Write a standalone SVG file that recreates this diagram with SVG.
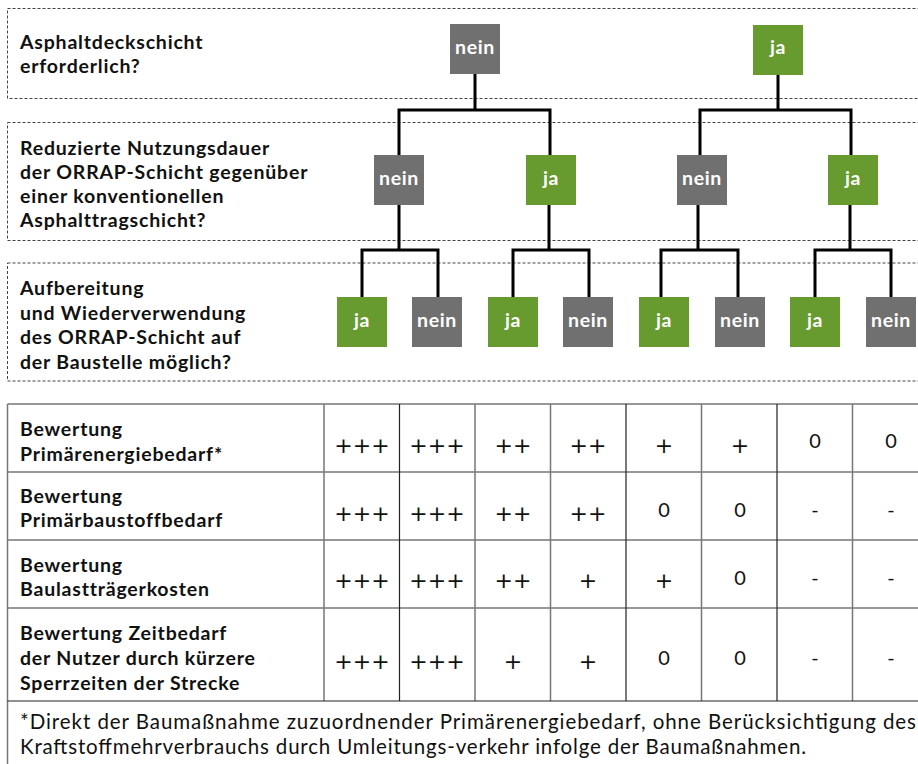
<svg xmlns="http://www.w3.org/2000/svg" width="918" height="764" viewBox="0 0 918 764">
<style>
.dash{fill:none;stroke:#444;stroke-width:1;stroke-dasharray:3 2}
.conn{fill:none;stroke:#000;stroke-width:3}
.g{fill:#707070}
.y{fill:#679a2f}
.nt{font-family:Lato,"Noto Sans",sans-serif;font-weight:bold;font-size:19.5px;letter-spacing:0.6px;fill:#fff;text-anchor:middle}
.lbl{font-family:Lato,"Noto Sans",sans-serif;font-weight:bold;font-size:19.5px;letter-spacing:0.8px;fill:#111}
.tl{fill:none;stroke:#777;stroke-width:1.5}
.tk{fill:none;stroke:#222;stroke-width:1.2}
.pl{font-family:"DejaVu Sans",sans-serif;font-size:22px;fill:#111;text-anchor:middle}
.zr{font-family:Lato,"Noto Sans",sans-serif;font-size:20px;fill:#111;text-anchor:middle}
.fn{font-family:Lato,"Noto Sans",sans-serif;font-size:20.5px;fill:#111}
</style>
<rect width="918" height="764" fill="#fff"/>
<g id="frames">
<rect class="dash" x="7.5" y="8.5" width="930" height="90"/>
<rect class="dash" x="7.5" y="122.5" width="930" height="118"/>
<rect class="dash" x="7.5" y="263" width="930" height="118"/>
</g>
<g id="questions" class="lbl">
<text x="20" y="49">Asphaltdeckschicht</text>
<text x="20" y="73">erforderlich?</text>
<text x="20" y="155">Reduzierte Nutzungsdauer</text>
<text x="20" y="179">der ORRAP-Schicht gegenüber</text>
<text x="20" y="203">einer konventionellen</text>
<text x="20" y="227">Asphalttragschicht?</text>
<text x="20" y="295">Aufbereitung</text>
<text x="20" y="320">und Wiederverwendung</text>
<text x="20" y="344">des ORRAP-Schicht auf</text>
<text x="20" y="369">der Baustelle möglich?</text>
</g>
<g id="connectors" class="conn">
<path d="M475 74 V110 M399 155 V110 H550 V155"/>
<path d="M778 75 V110 M700 155 V110 H851 V155"/>
<path d="M399 205 V250 M362 297 V250 H438 V297"/>
<path d="M549 205 V250 M513 297 V250 H589 V297"/>
<path d="M698 205 V250 M661 297 V250 H738 V297"/>
<path d="M850 205 V250 M815 297 V250 H891 V297"/>
</g>
<g id="n1-nein"><rect class="g" x="450" y="24" width="50" height="50"/><text class="nt" x="475" y="54">nein</text></g>
<g id="n1-ja"><rect class="y" x="753" y="25" width="50" height="50"/><text class="nt" x="778" y="54">ja</text></g>
<g id="n2-nein-a"><rect class="g" x="374" y="155" width="50" height="50"/><text class="nt" x="399" y="185">nein</text></g>
<g id="n2-ja-a"><rect class="y" x="526" y="155" width="50" height="50"/><text class="nt" x="551" y="185">ja</text></g>
<g id="n2-nein-b"><rect class="g" x="677" y="155" width="50" height="50"/><text class="nt" x="702" y="185">nein</text></g>
<g id="n2-ja-b"><rect class="y" x="828" y="155" width="50" height="50"/><text class="nt" x="853" y="185">ja</text></g>
<g id="n3-1"><rect class="y" x="337" y="297" width="50" height="50"/><text class="nt" x="362" y="327">ja</text></g>
<g id="n3-2"><rect class="g" x="412" y="297" width="50" height="50"/><text class="nt" x="437" y="327">nein</text></g>
<g id="n3-3"><rect class="y" x="488" y="297" width="50" height="50"/><text class="nt" x="513" y="327">ja</text></g>
<g id="n3-4"><rect class="g" x="563" y="297" width="50" height="50"/><text class="nt" x="588" y="327">nein</text></g>
<g id="n3-5"><rect class="y" x="639" y="297" width="50" height="50"/><text class="nt" x="664" y="327">ja</text></g>
<g id="n3-6"><rect class="g" x="715" y="297" width="50" height="50"/><text class="nt" x="740" y="327">nein</text></g>
<g id="n3-7"><rect class="y" x="790" y="297" width="50" height="50"/><text class="nt" x="815" y="327">ja</text></g>
<g id="n3-8"><rect class="g" x="866" y="297" width="50" height="50"/><text class="nt" x="891" y="327">nein</text></g>
<g id="table">
<path class="tl" d="M7.5 404 H930 M7.5 472 H930 M7.5 540 H930 M7.5 608 H930 M7.5 404 V764 M324 404 V701 M475 404 V701 M550.5 404 V701 M701.5 404 V701 M852.5 404 V701"/>
<path class="tk" d="M7.5 701 H930 M399.5 404 V701 M626 404 V701 M777 404 V701"/>
<g class="lbl">
<text x="20" y="436">Bewertung</text>
<text x="20" y="461">Primärenergiebedarf*</text>
<text x="20" y="503">Bewertung</text>
<text x="20" y="527">Primärbaustoffbedarf</text>
<text x="20" y="572">Bewertung</text>
<text x="20" y="596">Baulastträgerkosten</text>
<text x="20" y="640">Bewertung Zeitbedarf</text>
<text x="20" y="665">der Nutzer durch kürzere</text>
<text x="20" y="690">Sperrzeiten der Strecke</text>
</g>
<g class="pl">
<text x="362" y="453">+++</text><text x="437" y="453">+++</text><text x="513" y="453">++</text><text x="588" y="453">++</text><text x="664" y="453">+</text><text x="740" y="453">+</text>
<text x="362" y="521">+++</text><text x="437" y="521">+++</text><text x="513" y="521">++</text><text x="588" y="521">++</text>
<text x="362" y="588">+++</text><text x="437" y="588">+++</text><text x="513" y="588">++</text><text x="588" y="588">+</text><text x="664" y="588">+</text>
<text x="362" y="669">+++</text><text x="437" y="669">+++</text><text x="513" y="669">+</text><text x="588" y="669">+</text>
</g>
<g class="zr">
<text x="815" y="448">0</text><text x="891" y="448">0</text>
<text x="664" y="517">0</text><text x="740" y="517">0</text><text x="815" y="517">-</text><text x="891" y="517">-</text>
<text x="740" y="585">0</text><text x="815" y="585">-</text><text x="891" y="585">-</text>
<text x="664" y="665">0</text><text x="740" y="665">0</text><text x="815" y="665">-</text><text x="891" y="665">-</text>
</g>
</g>
<g id="footnote" class="fn">
<text x="20" y="729" textLength="896" lengthAdjust="spacing">*Direkt der Baumaßnahme zuzuordnender Primärenergiebedarf, ohne Berücksichtigung des</text>
<text x="20" y="754" textLength="786" lengthAdjust="spacing">Kraftstoffmehrverbrauchs durch Umleitungs-verkehr infolge der Baumaßnahmen.</text>
</g>
</svg>
